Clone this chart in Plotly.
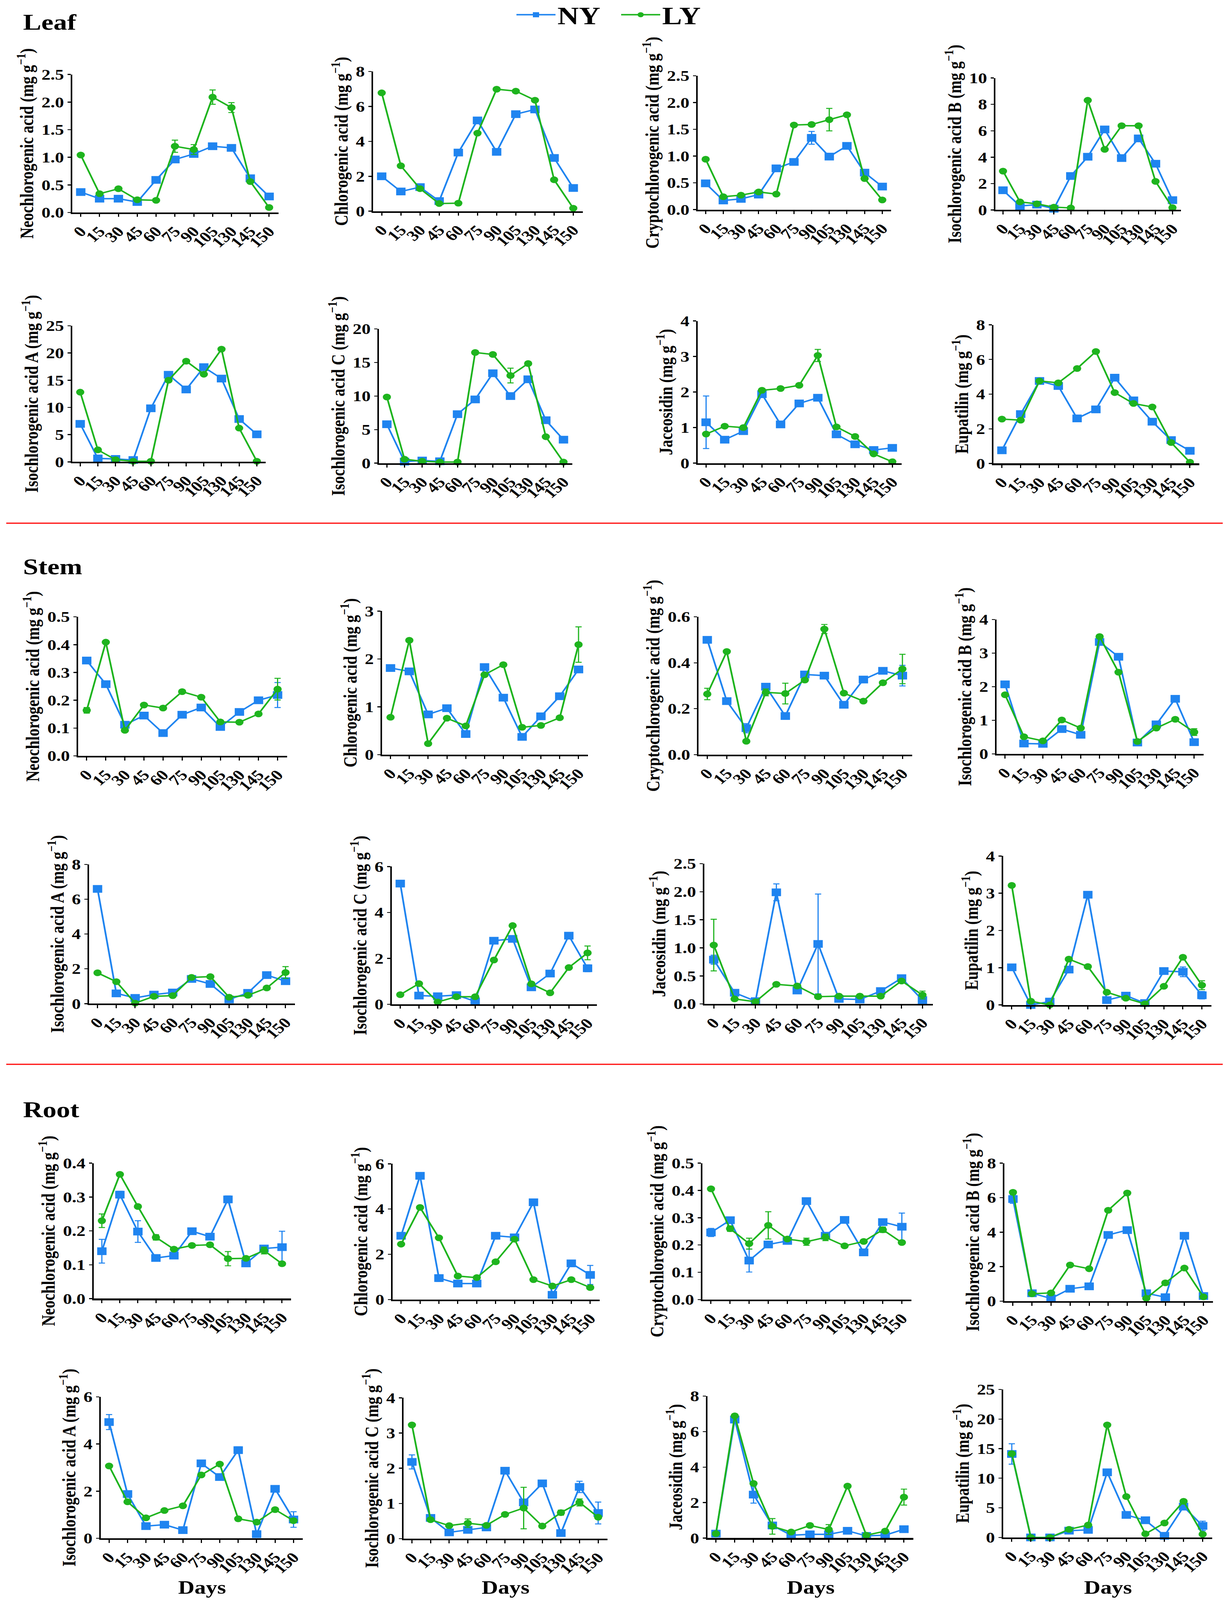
import plotly.graph_objects as go

# ---------------- data ----------------
days = ["0", "15", "30", "45", "60", "75", "90", "105", "130", "145", "150"]
series_names = ["NY", "LY"]
organs = ["Leaf", "Stem", "Root"]
compounds = ["Neochlorogenic acid", "Chlorogenic acid", "Cryptochlorogenic acid",
             "Isochlorogenic acid B", "Isochlorogenic acid A", "Isochlorogenic acid C",
             "Jaceosidin", "Eupatilin"]
Z = [0] * 11

# Leaf
leaf_neo_ny = [0.37, 0.25, 0.25, 0.19, 0.59, 0.96, 1.06, 1.20, 1.17, 0.62, 0.29]
leaf_neo_ly = [1.04, 0.34, 0.43, 0.23, 0.22, 1.20, 1.14, 2.09, 1.90, 0.56, 0.09]
leaf_neo_ny_err = [0.03, 0, 0, 0, 0, 0, 0, 0.03, 0.03, 0.04, 0.05]
leaf_neo_ly_err = [0, 0, 0, 0, 0, 0.11, 0.09, 0.13, 0.09, 0, 0]
leaf_chl_ny = [2.0, 1.13, 1.38, 0.58, 3.36, 5.2, 3.4, 5.56, 5.83, 3.05, 1.33]
leaf_chl_ly = [6.78, 2.6, 1.29, 0.44, 0.46, 4.47, 6.99, 6.88, 6.36, 1.8, 0.17]
leaf_cry_ny = [0.49, 0.17, 0.2, 0.28, 0.77, 0.89, 1.34, 0.99, 1.19, 0.69, 0.43]
leaf_cry_ly = [0.94, 0.24, 0.27, 0.33, 0.29, 1.58, 1.59, 1.68, 1.77, 0.58, 0.18]
leaf_cry_ny_err = [0, 0, 0, 0, 0, 0, 0.12, 0, 0, 0.06, 0]
leaf_cry_ly_err = [0, 0, 0, 0, 0, 0.03, 0.03, 0.21, 0, 0, 0]
leaf_isb_ny = [1.49, 0.3, 0.4, 0.09, 2.57, 4.03, 6.1, 3.93, 5.42, 3.5, 0.74]
leaf_isb_ly = [2.94, 0.61, 0.46, 0.21, 0.15, 8.31, 4.59, 6.38, 6.38, 2.16, 0.17]
leaf_isa_ny = [6.98, 0.63, 0.54, 0.34, 9.84, 16.0, 13.3, 17.4, 15.3, 7.87, 5.06]
leaf_isa_ly = [12.8, 2.2, 0.4, 0.11, 0.11, 15.0, 18.5, 16.1, 20.7, 6.2, 0.11]
leaf_isc_ny = [5.8, 0.23, 0.39, 0.28, 7.3, 9.5, 13.4, 10.0, 12.5, 6.4, 3.5]
leaf_isc_ly = [9.86, 0.58, 0.28, 0.16, 0.16, 16.5, 16.2, 13.06, 14.85, 3.94, 0.16]
leaf_isc_ly_err = [0, 0, 0, 0, 0, 0, 0, 1.1, 0, 0, 0]
leaf_jac_ny = [1.15, 0.66, 0.9, 1.94, 1.09, 1.68, 1.84, 0.81, 0.53, 0.37, 0.43]
leaf_jac_ly = [0.82, 1.04, 1.0, 2.05, 2.1, 2.19, 3.03, 1.02, 0.75, 0.26, 0.04]
leaf_jac_ny_err = [0.74, 0, 0, 0, 0, 0.05, 0.07, 0, 0, 0, 0]
leaf_jac_ly_err = [0, 0, 0, 0, 0, 0, 0.17, 0, 0, 0, 0]
leaf_eup_ny = [0.76, 2.85, 4.76, 4.47, 2.6, 3.12, 4.95, 3.64, 2.41, 1.35, 0.73]
leaf_eup_ly = [2.56, 2.5, 4.76, 4.65, 5.48, 6.46, 4.09, 3.46, 3.26, 1.21, 0.07]

# Stem
stem_neo_ny = [0.343, 0.258, 0.112, 0.145, 0.082, 0.148, 0.174, 0.104, 0.158, 0.2, 0.219]
stem_neo_ly = [0.164, 0.409, 0.092, 0.183, 0.172, 0.231, 0.211, 0.122, 0.121, 0.151, 0.24]
stem_neo_ny_err = [0.005, 0.01, 0, 0, 0, 0, 0, 0, 0, 0, 0.045]
stem_neo_ly_err = [0.01, 0, 0, 0, 0, 0, 0, 0, 0, 0, 0.039]
stem_chl_ny = [1.81, 1.74, 0.84, 0.97, 0.43, 1.83, 1.19, 0.37, 0.8, 1.22, 1.78]
stem_chl_ly = [0.78, 2.39, 0.23, 0.76, 0.6, 1.67, 1.88, 0.57, 0.61, 0.77, 2.3]
stem_chl_ly_err = [0, 0, 0, 0, 0, 0, 0, 0, 0, 0, 0.37]
stem_cry_ny = [0.5, 0.233, 0.115, 0.296, 0.168, 0.349, 0.344, 0.217, 0.327, 0.365, 0.344]
stem_cry_ly = [0.264, 0.449, 0.058, 0.271, 0.266, 0.325, 0.547, 0.268, 0.233, 0.313, 0.373]
stem_cry_ny_err = [0, 0, 0.02, 0, 0, 0, 0, 0, 0, 0.01, 0.045]
stem_cry_ly_err = [0.025, 0, 0, 0.015, 0.045, 0, 0.02, 0, 0, 0, 0.064]
stem_isb_ny = [2.07, 0.31, 0.3, 0.74, 0.57, 3.33, 2.89, 0.34, 0.88, 1.64, 0.35]
stem_isb_ly = [1.76, 0.51, 0.39, 1.01, 0.77, 3.49, 2.43, 0.37, 0.77, 1.03, 0.65]
stem_isb_ly_err = [0, 0, 0, 0, 0, 0, 0, 0, 0, 0, 0.1]
stem_isa_ny = [6.59, 0.59, 0.33, 0.52, 0.64, 1.42, 1.13, 0.24, 0.62, 1.64, 1.29]
stem_isa_ly = [1.77, 1.26, 0.03, 0.42, 0.46, 1.51, 1.55, 0.37, 0.48, 0.9, 1.79]
stem_isa_ly_err = [0, 0, 0, 0, 0, 0, 0, 0, 0, 0, 0.34]
stem_isc_ny = [5.26, 0.38, 0.35, 0.4, 0.13, 2.77, 2.85, 0.74, 1.34, 2.99, 1.57]
stem_isc_ly = [0.42, 0.9, 0.1, 0.33, 0.33, 1.93, 3.43, 0.89, 0.5, 1.6, 2.24]
stem_isc_ny_err = [0, 0, 0, 0, 0, 0, 0, 0, 0, 0, 0.15]
stem_isc_ly_err = [0, 0, 0, 0, 0, 0, 0, 0, 0, 0, 0.3]
stem_jac_ny = [0.79, 0.2, 0.05, 1.99, 0.24, 1.07, 0.09, 0.08, 0.23, 0.46, 0.07]
stem_jac_ly = [1.05, 0.09, 0.04, 0.35, 0.32, 0.13, 0.14, 0.14, 0.14, 0.41, 0.16]
stem_jac_ny_err = [0.08, 0.03, 0, 0.15, 0, 0.89, 0, 0, 0, 0, 0]
stem_jac_ly_err = [0.46, 0, 0, 0, 0, 0, 0, 0, 0, 0, 0.07]
stem_eup_ny = [1.01, 0.0, 0.09, 0.95, 2.96, 0.13, 0.25, 0.05, 0.91, 0.89, 0.26]
stem_eup_ly = [3.21, 0.1, 0.0, 1.23, 1.03, 0.34, 0.18, 0.03, 0.5, 1.28, 0.53]
stem_eup_ny_err = [0, 0, 0, 0, 0, 0, 0, 0, 0, 0.13, 0.1]
stem_eup_ly_err = [0, 0, 0, 0, 0, 0, 0, 0, 0, 0, 0.12]

# Root
root_neo_ny = [0.14, 0.307, 0.198, 0.12, 0.127, 0.199, 0.183, 0.293, 0.104, 0.148, 0.152]
root_neo_ly = [0.23, 0.367, 0.272, 0.181, 0.146, 0.157, 0.159, 0.118, 0.119, 0.142, 0.103]
root_neo_ny_err = [0.035, 0.01, 0.032, 0, 0, 0, 0, 0.01, 0, 0, 0.047]
root_neo_ly_err = [0.02, 0, 0, 0.008, 0.005, 0, 0, 0.021, 0, 0.01, 0]
root_chl_ny = [2.82, 5.47, 0.95, 0.71, 0.71, 2.82, 2.75, 4.3, 0.21, 1.6, 1.09]
root_chl_ly = [2.45, 4.07, 2.73, 1.04, 0.97, 1.67, 2.67, 0.88, 0.6, 0.88, 0.53]
root_chl_ny_err = [0, 0, 0.15, 0, 0, 0, 0, 0.1, 0, 0, 0.42]
root_cry_ny = [0.246, 0.291, 0.143, 0.202, 0.215, 0.361, 0.234, 0.292, 0.173, 0.284, 0.267]
root_cry_ly = [0.406, 0.26, 0.205, 0.272, 0.222, 0.212, 0.228, 0.197, 0.213, 0.256, 0.209]
root_cry_ny_err = [0.015, 0, 0.042, 0, 0, 0, 0, 0, 0, 0, 0.05]
root_cry_ly_err = [0, 0.01, 0.02, 0.05, 0, 0.013, 0.012, 0, 0, 0.01, 0]
root_isb_ny = [5.92, 0.46, 0.16, 0.72, 0.86, 3.84, 4.12, 0.46, 0.23, 3.79, 0.3]
root_isb_ly = [6.31, 0.43, 0.48, 2.1, 1.88, 5.27, 6.27, 0.17, 1.06, 1.92, 0.25]
root_isb_ny_err = [0.25, 0, 0, 0, 0, 0, 0, 0, 0, 0, 0]
root_isa_ny = [4.93, 1.88, 0.52, 0.58, 0.35, 3.18, 2.6, 3.74, 0.18, 2.1, 0.8]
root_isa_ly = [3.07, 1.55, 0.87, 1.18, 1.38, 2.69, 3.15, 0.83, 0.69, 1.22, 0.75]
root_isa_ny_err = [0.32, 0, 0, 0, 0, 0, 0, 0.14, 0, 0, 0.33]
root_isc_ny = [2.18, 0.59, 0.18, 0.25, 0.32, 1.93, 1.03, 1.57, 0.16, 1.47, 0.73]
root_isc_ly = [3.23, 0.54, 0.37, 0.44, 0.38, 0.69, 0.87, 0.36, 0.74, 1.03, 0.61]
root_isc_ny_err = [0.2, 0, 0, 0, 0, 0, 0, 0, 0, 0.16, 0.31]
root_isc_ly_err = [0, 0, 0, 0.12, 0, 0, 0.59, 0, 0.07, 0.1, 0]
root_jac_ny = [0.25, 6.68, 2.45, 0.71, 0.16, 0.21, 0.21, 0.41, 0.12, 0.16, 0.5]
root_jac_ly = [0.25, 6.89, 3.08, 0.66, 0.34, 0.71, 0.48, 2.93, 0.16, 0.39, 2.31]
root_jac_ny_err = [0, 0, 0.48, 0, 0, 0, 0, 0, 0, 0, 0]
root_jac_ly_err = [0, 0, 0, 0.44, 0, 0, 0.28, 0, 0, 0, 0.45]
root_eup_ny = [14.1, 0, 0, 1.14, 1.27, 11.0, 3.8, 2.9, 0.27, 5.2, 1.95]
root_eup_ly = [14.15, 0, 0, 1.36, 2.09, 19.0, 6.9, 0.6, 2.44, 6.1, 0.54]
root_eup_ny_err = [1.73, 0, 0, 0, 0, 0, 0, 0, 0, 0, 0.8]

# y axis tick settings per panel: (max, step)
leaf_yaxes = [(2.5, 0.5), (8, 2), (2.5, 0.5), (10, 2), (25, 5), (20, 5), (4, 1), (8, 2)]
stem_yaxes = [(0.5, 0.1), (3, 1), (0.6, 0.2), (4, 1), (8, 2), (6, 2), (2.5, 0.5), (4, 1)]
root_yaxes = [(0.4, 0.1), (6, 2), (0.5, 0.1), (8, 2), (6, 2), (4, 1), (8, 2), (25, 5)]

panels = [
    (leaf_neo_ny, leaf_neo_ly, leaf_neo_ny_err, leaf_neo_ly_err),
    (leaf_chl_ny, leaf_chl_ly, Z, Z),
    (leaf_cry_ny, leaf_cry_ly, leaf_cry_ny_err, leaf_cry_ly_err),
    (leaf_isb_ny, leaf_isb_ly, Z, Z),
    (leaf_isa_ny, leaf_isa_ly, Z, Z),
    (leaf_isc_ny, leaf_isc_ly, Z, leaf_isc_ly_err),
    (leaf_jac_ny, leaf_jac_ly, leaf_jac_ny_err, leaf_jac_ly_err),
    (leaf_eup_ny, leaf_eup_ly, Z, Z),
    (stem_neo_ny, stem_neo_ly, stem_neo_ny_err, stem_neo_ly_err),
    (stem_chl_ny, stem_chl_ly, Z, stem_chl_ly_err),
    (stem_cry_ny, stem_cry_ly, stem_cry_ny_err, stem_cry_ly_err),
    (stem_isb_ny, stem_isb_ly, Z, stem_isb_ly_err),
    (stem_isa_ny, stem_isa_ly, Z, stem_isa_ly_err),
    (stem_isc_ny, stem_isc_ly, stem_isc_ny_err, stem_isc_ly_err),
    (stem_jac_ny, stem_jac_ly, stem_jac_ny_err, stem_jac_ly_err),
    (stem_eup_ny, stem_eup_ly, stem_eup_ny_err, stem_eup_ly_err),
    (root_neo_ny, root_neo_ly, root_neo_ny_err, root_neo_ly_err),
    (root_chl_ny, root_chl_ly, root_chl_ny_err, Z),
    (root_cry_ny, root_cry_ly, root_cry_ny_err, root_cry_ly_err),
    (root_isb_ny, root_isb_ly, root_isb_ny_err, Z),
    (root_isa_ny, root_isa_ly, root_isa_ny_err, Z),
    (root_isc_ny, root_isc_ly, root_isc_ny_err, root_isc_ly_err),
    (root_jac_ny, root_jac_ly, root_jac_ny_err, root_jac_ly_err),
    (root_eup_ny, root_eup_ly, root_eup_ny_err, Z),
]
yaxes_spec = leaf_yaxes + stem_yaxes + root_yaxes

# ---------------- layout geometry (pixels) ----------------
W, H = 3146, 4985
# left, right, top, bottom of each plot area
boxes = [
    (185, 713, 232, 662), (955, 1492, 223, 658), (1786, 2281, 236, 653), (2548, 3023, 243, 654),
    (185, 680, 1015, 1439), (970, 1465, 1025, 1443), (1786, 2308, 1000, 1443), (2543, 3070, 1012, 1444),
    (200, 735, 1922, 2355), (978, 1505, 1904, 2351), (1788, 2335, 1922, 2351), (2551, 3081, 1930, 2349),
    (228, 755, 2693, 3127), (1003, 1528, 2700, 3129), (1803, 2388, 2691, 3128), (2568, 3101, 2667, 3131),
    (240, 745, 3624, 4046), (1005, 1535, 3626, 4049), (1798, 2333, 3624, 4049), (2571, 3105, 3624, 4054),
    (258, 775, 4352, 4793), (1033, 1555, 4355, 4794), (1811, 2338, 4350, 4792), (2568, 3103, 4329, 4790),
]
organ_label_y = [70, 1765, 3457]
separator_y = [1630, 3316]
days_label_y = 4945

FONT = "Liberation Serif"
BLUE = "#1f84f0"
GREEN = "#1eb41e"
colors = [BLUE, GREEN]
symbols = ["square", "circle"]
msizes = [24, 21]

fig = go.Figure()
layout = dict(
    width=W, height=H, autosize=False,
    margin=dict(l=0, r=0, t=0, b=0, pad=0, autoexpand=False),
    paper_bgcolor="white", plot_bgcolor="white",
    font=dict(family=FONT, color="black"),
    showlegend=True,
)

for i, (ny, ly, ny_err, ly_err) in enumerate(panels):
    n = i + 1
    xa = "x" if n == 1 else f"x{n}"
    ya = "y" if n == 1 else f"y{n}"
    for s, (vals, errs) in enumerate([(ny, ny_err), (ly, ly_err)]):
        fig.add_trace(go.Scatter(
            x=days, y=vals, xaxis=xa, yaxis=ya,
            mode="lines+markers", name=series_names[s],
            legendgroup=series_names[s], showlegend=(i == 0),
            line=dict(color=colors[s], width=4.5),
            marker=dict(symbol=symbols[s], size=msizes[s], color=colors[s]),
            error_y=dict(type="data", array=errs, visible=True, color=colors[s],
                         thickness=3, width=8),
            cliponaxis=False,
        ))
    l, r, t, b = boxes[i]
    ymax, step = yaxes_spec[i]
    fmt = ".1f" if step < 1 else "d"
    comp = compounds[i % 8]
    xkey = "xaxis" if n == 1 else f"xaxis{n}"
    ykey = "yaxis" if n == 1 else f"yaxis{n}"
    layout[xkey] = dict(
        domain=[l / W, r / W], anchor=ya, type="category",
        range=[-0.45, 10.5], tickmode="array", tickvals=days, ticktext=days,
        showline=True, linewidth=5, linecolor="black",
        ticks="outside", ticklen=9, tickwidth=3, tickcolor="black",
        tickangle=-46, tickfont=dict(family=FONT, size=46, weight="bold"),
        showgrid=False, zeroline=False, fixedrange=True,
    )
    layout[ykey] = dict(
        domain=[1 - b / H, 1 - t / H], anchor=xa,
        range=[0, ymax], dtick=step, tick0=0, tickformat=fmt,
        showline=True, linewidth=4, linecolor="black",
        ticks="outside", ticklen=8, tickwidth=3, tickcolor="black",
        tickfont=dict(family=FONT, size=46, weight="bold"),
        showgrid=False, zeroline=False, fixedrange=True,
        title=dict(text=f"{comp} (mg g<sup>−1</sup>)", standoff=6,
                   font=dict(family=FONT, size=48, weight="bold")),
    )

annotations = []
for k, org in enumerate(organs):
    annotations.append(dict(
        text=org, xref="paper", yref="paper", x=57 / W, y=1 - organ_label_y[k] / H,
        xanchor="left", yanchor="middle", showarrow=False,
        font=dict(family=FONT, size=70, weight="bold", color="black"),
    ))
for i in range(20, 24):
    l, r, t, b = boxes[i]
    annotations.append(dict(
        text="Days", xref="paper", yref="paper", x=(l + r) / 2 / W, y=1 - days_label_y / H,
        xanchor="center", yanchor="middle", showarrow=False,
        font=dict(family=FONT, size=58, weight="bold", color="black"),
    ))
layout["annotations"] = annotations
layout["shapes"] = [
    dict(type="line", xref="paper", yref="paper", x0=16 / W, x1=3130 / W,
         y0=1 - sy / H, y1=1 - sy / H, line=dict(color="#ff1a1a", width=4))
    for sy in separator_y
]
layout["legend"] = dict(
    orientation="h", x=1317 / W, xanchor="left", y=1 - 46 / H, yanchor="middle",
    font=dict(family=FONT, size=76, weight="bold", color="black"),
    itemwidth=100, entrywidth=153, entrywidthmode="pixels",
    tracegroupgap=0, bgcolor="rgba(0,0,0,0)",
)
fig.update_layout(**layout)

# fit the fixed-size figure to whatever viewport the page is shown in
fit_script = """
var gd = document.getElementById('{plot_id}');
document.documentElement.style.margin = '0';
document.body.style.margin = '0';
document.documentElement.style.overflow = 'hidden';
document.body.style.overflow = 'hidden';
var sx = window.innerWidth / %d, sy = window.innerHeight / %d;
gd.style.transformOrigin = '0 0';
gd.style.transform = 'scale(' + sx + ',' + sy + ')';
""" % (W, H)
fig.write_html("out.html", post_script=fit_script,
               config={"displayModeBar": False, "staticPlot": False})
